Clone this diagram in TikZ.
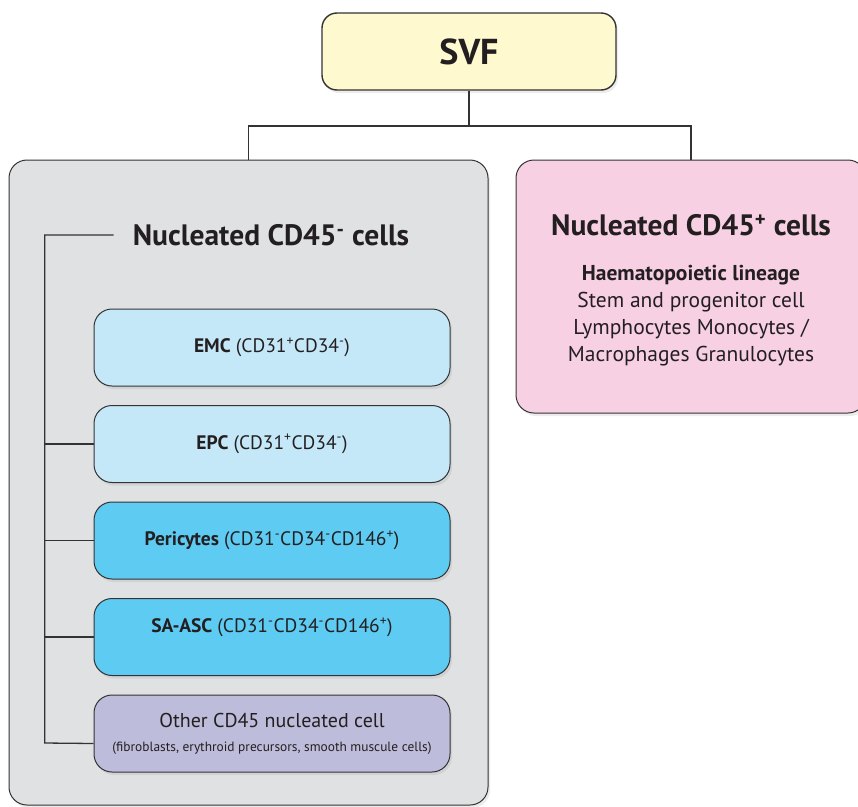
\documentclass[tikz,border=0pt]{standalone}
\usepackage{fontspec}
\setmainfont{PT Sans}
\usepackage{xcolor}
\usepackage{tikz}
\usetikzlibrary{shapes.geometric, arrows, shadows}

\definecolor{svfyellow}{HTML}{FFF9CF}
\definecolor{negray}{HTML}{E0E1E3}
\definecolor{pospink}{HTML}{F8D0E4}
\definecolor{paleblue}{HTML}{C5E8F9}
\definecolor{deepblue}{HTML}{5ECBF3}
\definecolor{lavender}{HTML}{BDBCDB}
\definecolor{linegray}{HTML}{333333}
\definecolor{inkblack}{HTML}{231F20}

\begin{document}
\begin{tikzpicture}[x=1pt, y=-1pt, node distance=96.5pt, auto, text=inkblack]
    % Define the style for the nodes
    \tikzstyle{panel} = [rectangle, draw=linegray, line width=1pt, rounded corners=18pt, text centered, align=center, drop shadow={shadow xshift=2pt, shadow yshift=-3pt, opacity=0.15}]
    \tikzstyle{cell} = [panel, minimum width=356pt, minimum height=77pt, font=\fontsize{19.5}{24}\selectfont]
    \tikzstyle{line} = [draw, line width=1.3pt, linegray]

    \useasboundingbox (0,0) rectangle (858,806);
    \clip (0,0) rectangle (858,806);

    % Place the nodes
    \node [panel, fill=svfyellow, minimum width=294pt, minimum height=77pt, rounded corners=15pt, line width=1.4pt, font=\bfseries\fontsize{36}{40}\selectfont] (svf) at (469,51.5) {SVF};
    \node [panel, fill=negray, minimum width=479pt, minimum height=645pt] (neg) at (248.5,482.5) {};
    \node [panel, fill=pospink, minimum width=350pt, minimum height=253pt, font=\fontsize{21.5}{27}\selectfont] (pos) at (691,286.5)
        {{\bfseries\fontsize{29.5}{32}\selectfont\rule{0pt}{29pt}Nucleated CD45\textsuperscript{+} cells}\\[18pt]
         \textbf{Haematopoietic lineage}\\ Stem and progenitor cell\\ Lymphocytes Monocytes /\\ Macrophages Granulocytes};
    \node [inner sep=0pt, font=\bfseries\fontsize{29.5}{32}\selectfont] (negtitle) at (271,235) {Nucleated CD45\textsuperscript{-} cells};

    \node [cell, fill=paleblue] (emc) at (272,347.5) {\textbf{EMC} (CD31\textsuperscript{+}CD34\textsuperscript{-})};
    \node [cell, fill=paleblue, below of=emc] (epc) {\textbf{EPC} (CD31\textsuperscript{+}CD34\textsuperscript{-})};
    \node [cell, fill=deepblue, below of=epc] (peri) {\textbf{Pericytes} (CD31\textsuperscript{-}CD34\textsuperscript{-}CD146\textsuperscript{+})};
    \node [cell, fill=deepblue, below of=peri] (saasc) {\textbf{SA-ASC} (CD31\textsuperscript{-}CD34\textsuperscript{-}CD146\textsuperscript{+})\\ \mbox{}};
    \node [cell, fill=lavender, below of=saasc, font=\fontsize{20}{24}\selectfont] (other) {Other CD45 nucleated cell\\[0pt]
        {\fontsize{13.4}{15}\selectfont (fibroblasts, erythroid precursors, smooth muscule cells)}};

    % Connect the nodes with paths
    \coordinate (split) at (469,126);
    \coordinate (railend) at (44.7,743);
    \path [line] (svf.south) -- (split);
    \path [line] (neg.north) |- (split) -| (pos.north);
    \path [line] ([xshift=-19pt]negtitle.west) -| (railend) -- ([yshift=-10pt]other.west);
    \foreach \n in {epc, peri, saasc}
        \path [line] (\n.west -| railend) -- (\n.west);
\end{tikzpicture}
\end{document}
